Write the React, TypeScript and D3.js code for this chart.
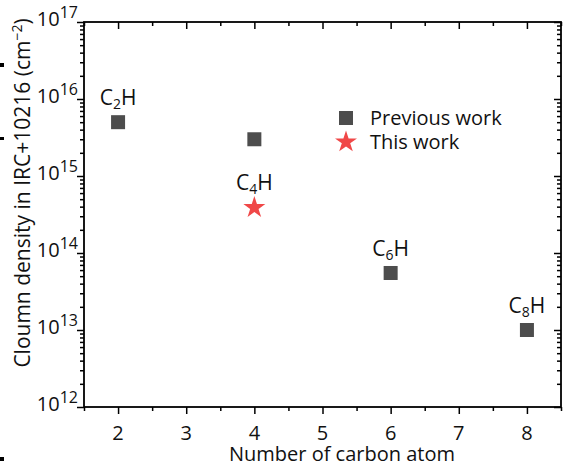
import React, { useEffect, useRef } from "react";
import * as d3 from "d3";

// data
const carbons = [2, 4, 6, 8];
const previousWork = [5e15, 3e15, 5.5e13, 1e13];
const thisWorkX = [4];
const thisWork = [4e14];
const labels = [
  { n: 2, sub: "2", y: 5e15 },
  { n: 4, sub: "4", y: 4e14 },
  { n: 6, sub: "6", y: 5.5e13 },
  { n: 8, sub: "8", y: 1e13 },
];
const xTicks = [2, 3, 4, 5, 6, 7, 8];
const yExponents = [12, 13, 14, 15, 16, 17];

const FONT = "'Open Sans', 'Noto Sans', sans-serif";

export default function App() {
  const ref = useRef<SVGSVGElement>(null);

  useEffect(() => {
    const width = 563;
    const height = 467;
    const margin = { top: 22, right: 2, bottom: 60, left: 84 };
    const innerW = width - margin.left - margin.right;
    const innerH = height - margin.top - margin.bottom;

    const svg = d3.select(ref.current).attr("width", width).attr("height", height);
    svg.selectAll("*").remove();

    // stray crop marks on the left edge
    [[63, 4], [137, 3], [457, 4]].forEach(([y, h]) => {
      svg.append("rect").attr("x", 0).attr("y", y).attr("width", 4).attr("height", h).attr("fill", "#000");
    });

    const g = svg.append("g").attr("transform", `translate(${margin.left},${margin.top})`);

    const x = d3.scaleLinear().domain([1.5, 8.5]).range([0, innerW]);
    const y = d3.scaleLog().domain([1e12, 1e17]).range([innerH, 0]);

    const minorX = d3.range(1.5, 8.51, 0.5).filter(v => !Number.isInteger(v));
    const minorY: number[] = [];
    yExponents.slice(0, -1).forEach(e => {
      for (let k = 2; k <= 9; k++) minorY.push(k * Math.pow(10, e));
    });

    const styleAxis = (sel: any) => {
      sel.select(".domain").remove();
      sel.selectAll("line").attr("stroke", "#000").attr("stroke-width", 1.5);
    };

    // bottom
    g.append("g").attr("transform", `translate(0,${innerH})`)
      .call(d3.axisBottom(x).tickValues(xTicks).tickSize(7).tickFormat(() => ""))
      .call(styleAxis);
    g.append("g").attr("transform", `translate(0,${innerH})`)
      .call(d3.axisBottom(x).tickValues(minorX).tickSize(4).tickFormat(() => ""))
      .call(styleAxis);
    g.selectAll("text.xlab").data(xTicks).join("text")
      .attr("class", "xlab")
      .attr("x", d => x(d)).attr("y", innerH + 33)
      .attr("text-anchor", "middle")
      .attr("font-family", FONT).attr("font-size", 20).attr("fill", "#111")
      .text(d => d);

    // top (inward)
    g.append("g")
      .call(d3.axisBottom(x).tickValues(xTicks).tickSize(7).tickFormat(() => ""))
      .call(styleAxis);
    g.append("g")
      .call(d3.axisBottom(x).tickValues(minorX).tickSize(4).tickFormat(() => ""))
      .call(styleAxis);

    // left (outward)
    g.append("g")
      .call(d3.axisLeft(y).tickValues(yExponents.map(e => Math.pow(10, e))).tickSize(7).tickFormat(() => ""))
      .call(styleAxis);
    g.append("g")
      .call(d3.axisLeft(y).tickValues(minorY).tickSize(4).tickFormat(() => ""))
      .call(styleAxis);

    // right (inward)
    g.append("g").attr("transform", `translate(${innerW},0)`)
      .call(d3.axisLeft(y).tickValues(yExponents.map(e => Math.pow(10, e))).tickSize(7).tickFormat(() => ""))
      .call(styleAxis);
    g.append("g").attr("transform", `translate(${innerW},0)`)
      .call(d3.axisLeft(y).tickValues(minorY).tickSize(4).tickFormat(() => ""))
      .call(styleAxis);

    // frame
    g.append("rect").attr("width", innerW).attr("height", innerH)
      .attr("fill", "none").attr("stroke", "#000").attr("stroke-width", 1.8);

    // y tick labels 10^n
    yExponents.forEach(e => {
      const t = g.append("text")
        .attr("x", -6).attr("y", y(Math.pow(10, e)) + 4)
        .attr("text-anchor", "end")
        .attr("font-family", FONT).attr("font-size", 20).attr("fill", "#111");
      t.append("tspan").text("10");
      t.append("tspan").attr("font-size", 16).attr("dy", -8).text(String(e));
    });

    // axis titles
    svg.append("text")
      .attr("x", 342).attr("y", 461)
      .attr("text-anchor", "middle")
      .attr("font-family", FONT).attr("font-size", 20).attr("fill", "#111")
      .text("Number of carbon atom");

    const yt = svg.append("text")
      .attr("transform", `translate(30,193) rotate(-90)`)
      .attr("text-anchor", "middle")
      .attr("font-family", FONT).attr("font-size", 21).attr("fill", "#111");
    yt.append("tspan").text("Cloumn density in IRC+10216 (cm");
    yt.append("tspan").attr("font-size", 14).attr("dy", -8).text("−2");
    yt.append("tspan").attr("dy", 8).text(")");

    // previous work squares
    const sq = 14;
    g.selectAll("rect.prev").data(carbons).join("rect")
      .attr("class", "prev")
      .attr("x", (d, i) => x(d) - sq / 2)
      .attr("y", (d, i) => y(previousWork[i]) - sq / 2)
      .attr("width", sq).attr("height", sq)
      .attr("fill", "#4d4d4d");

    // this work star
    const star = d3.symbol().type(d3.symbolStar).size(150);
    g.selectAll("path.this").data(thisWorkX).join("path")
      .attr("class", "this")
      .attr("transform", (d, i) => `translate(${x(d)},${y(thisWork[i]) + 1})`)
      .attr("d", star())
      .attr("fill", "#f04848");

    // molecule labels
    labels.forEach(l => {
      const t = g.append("text")
        .attr("x", x(l.n)).attr("y", y(l.y) - 17)
        .attr("text-anchor", "middle")
        .attr("font-family", FONT).attr("font-size", 21).attr("fill", "#111");
      t.append("tspan").text("C");
      t.append("tspan").attr("font-size", 14).attr("dy", 4).text(l.sub);
      t.append("tspan").attr("dy", -4).text("H");
    });

    // legend
    const legend = svg.append("g").attr("transform", "translate(346,118)");
    legend.append("rect").attr("x", -7).attr("y", -7).attr("width", sq).attr("height", sq).attr("fill", "#4d4d4d");
    legend.append("text").attr("x", 24).attr("y", 7)
      .attr("font-family", FONT).attr("font-size", 20).attr("fill", "#111")
      .text("Previous work");
    legend.append("path").attr("transform", "translate(0,24)").attr("d", star()).attr("fill", "#f04848");
    legend.append("text").attr("x", 24).attr("y", 31)
      .attr("font-family", FONT).attr("font-size", 20).attr("fill", "#111")
      .text("This work");
  }, []);

  return (
    <div style={{ position: "absolute", left: 0, top: 0 }}>
      <svg ref={ref} style={{ display: "block" }} />
    </div>
  );
}
